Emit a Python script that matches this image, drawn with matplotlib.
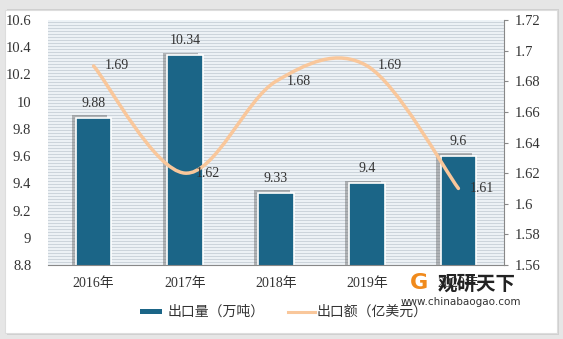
import numpy as np
import matplotlib
matplotlib.use("Agg")
import matplotlib.pyplot as plt
import matplotlib.patheffects as pe
from matplotlib.path import Path
from matplotlib.patches import PathPatch, Rectangle

plt.rcParams['font.family'] = ['Liberation Serif', 'Noto Sans CJK SC', 'DejaVu Sans']

years = ['2016年', '2017年', '2018年', '2019年', '2020年']
volume = [9.88, 10.34, 9.33, 9.4, 9.6]          # 出口量（万吨）
amount = [1.69, 1.62, 1.68, 1.69, 1.61]         # 出口额（亿美元）
left_ticks = [8.8, 9, 9.2, 9.4, 9.6, 9.8, 10, 10.2, 10.4, 10.6]
right_ticks = [1.56, 1.58, 1.6, 1.62, 1.64, 1.66, 1.68, 1.7, 1.72]

bar_col = '#1b6587'
line_col = '#f9c79b'
txt_col = '#333333'

fig = plt.figure(figsize=(5.63, 3.39), dpi=100)
fig.patch.set_facecolor('#e6e6e6')
# white card with a soft shadow
fig.add_artist(Rectangle((7/563, 4/339), 552/563, 326/339, transform=fig.transFigure,
                         facecolor='#d0d0d0', edgecolor='none', zorder=0))
fig.add_artist(Rectangle((5/563, 6/339), 552/563, 323/339, transform=fig.transFigure,
                         facecolor='white', edgecolor='#dddddd', lw=0.8, zorder=0))

ax = fig.add_axes([48/563, 74/339, 456/563, 245/339])
ax.set_facecolor('#eef3f7')
# striped background
for yy in np.arange(0, 1.0001, 3/245):
    ax.plot([0, 1], [yy, yy], transform=ax.transAxes, color='#ccd4db', lw=0.8, zorder=0)

x = np.arange(len(years))
bars = ax.bar(x, volume, width=0.39, color=bar_col, edgecolor='white', linewidth=1.2, zorder=2)
for b in bars:
    b.set_path_effects([pe.SimplePatchShadow(offset=(-3, 2), shadow_rgbFace='#555555', alpha=0.4),
                        pe.Normal()])
for xi, v in zip(x, volume):
    ax.text(xi, v + 0.06, f'{v:g}', ha='center', va='bottom', fontsize=10, color=txt_col, zorder=5)

ax.set_xlim(-0.5, len(years) - 0.5)
ax.set_ylim(8.8, 10.6)
ax.set_yticks(left_ticks)
ax.set_yticklabels([f'{t:g}' for t in left_ticks], fontsize=10.5, color=txt_col)
ax.set_xticks(x)
ax.set_xticklabels(years, fontsize=10, color=txt_col)
ax.tick_params(axis='y', length=0, pad=12)
ax.tick_params(axis='x', length=0, pad=9)
for s in ['top', 'left', 'right']:
    ax.spines[s].set_visible(False)
ax.spines['bottom'].set_color('#888888')

ax2 = ax.twinx()
ax2.set_ylim(1.56, 1.72)
ax2.set_yticks(right_ticks)
ax2.set_yticklabels([f'{t:g}' for t in right_ticks], fontsize=10.5, color=txt_col)
ax2.tick_params(axis='y', length=3, direction='out', color='#888888', pad=5)
for s in ['top', 'left', 'bottom']:
    ax2.spines[s].set_visible(False)
ax2.spines['right'].set_color('#888888')

# smooth line (cubic bezier through the points)
pts = np.column_stack([x, amount]).astype(float)
ext = np.vstack([pts[0], pts, pts[-1]])
verts = [tuple(pts[0])]
codes = [Path.MOVETO]
for i in range(len(pts) - 1):
    p0, p1, p2, p3 = ext[i], ext[i + 1], ext[i + 2], ext[i + 3]
    c1 = p1 + (p2 - p0) / 6
    c2 = p2 - (p3 - p1) / 6
    verts += [tuple(c1), tuple(c2), tuple(p2)]
    codes += [Path.CURVE4] * 3
ax2.add_patch(PathPatch(Path(verts, codes), facecolor='none', edgecolor=line_col, lw=2.5,
                        capstyle='round', zorder=3))
for xi, v in zip(x, amount):
    ax2.text(xi + 0.12, v, f'{v:g}', ha='left', va='center', fontsize=10, color=txt_col, zorder=5)

# legend
fig.add_artist(Rectangle((140/563, 25/339), 22/563, 5/339, transform=fig.transFigure,
                         facecolor=bar_col, edgecolor='none'))
fig.text(168/563, 27.5/339, '出口量（万吨）', fontsize=10, color=txt_col, va='center',
         family=['Noto Sans CJK SC'])
fig.add_artist(plt.Line2D([288/563, 315/563], [27.5/339, 27.5/339], color=line_col, lw=2.2))
fig.text(317/563, 27.5/339, '出口额（亿美元）', fontsize=10, color=txt_col, va='center',
         family=['Noto Sans CJK SC'])

# watermark
fig.text(438/563, 55/339, '观研天下', fontsize=14, fontweight='bold', color='#222222',
         va='center', family=['Noto Sans CJK SC'], zorder=6)
fig.text(401/563, 37/339, 'www.chinabaogao.com', fontsize=7.5, color='#333333',
         va='center', family=['DejaVu Sans'], zorder=6)
fig.text(410/563, 56/339, 'G', fontsize=16, fontweight='bold', color='#f08a1c',
         va='center', family=['DejaVu Sans'], zorder=6)

fig.savefig('out.png', dpi=100, facecolor=fig.get_facecolor())
